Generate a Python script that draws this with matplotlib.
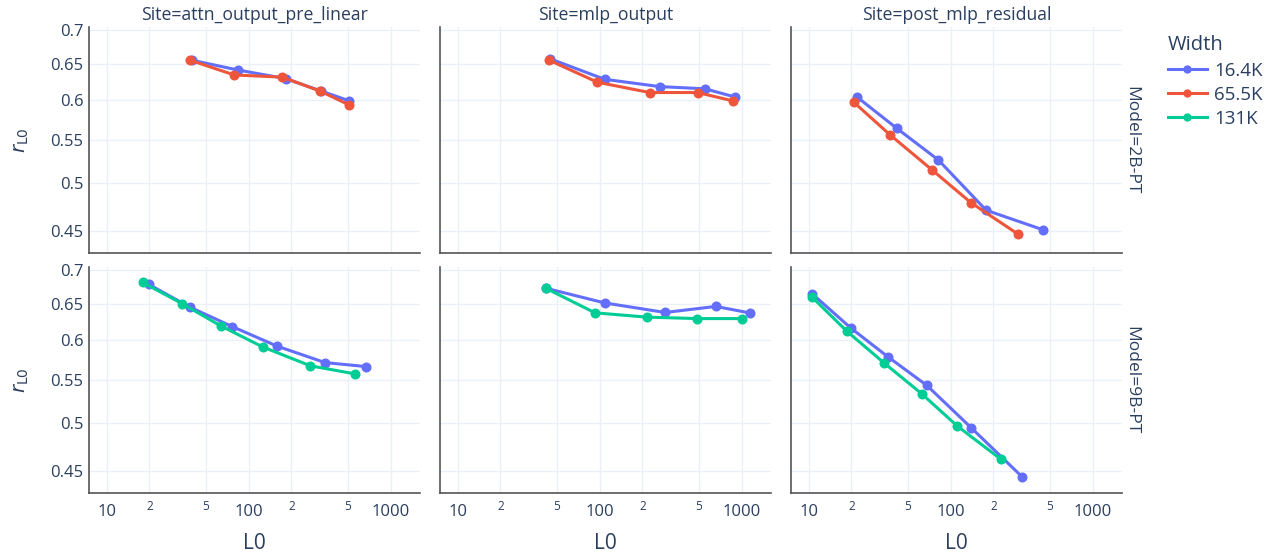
import matplotlib
matplotlib.use("Agg")
import matplotlib.pyplot as plt
from matplotlib.ticker import FixedLocator, NullLocator, FixedFormatter

plt.rcParams['font.family'] = ['Open Sans', 'DejaVu Sans']

sites = ['attn_output_pre_linear', 'mlp_output', 'post_mlp_residual']
models = ['2B-PT', '9B-PT']
widths = ['16.4K', '65.5K', '131K']
colors = {'16.4K': '#636EFA', '65.5K': '#EF553B', '131K': '#00CC96'}

# (model, site, width) -> (L0 values, r_L0 values)
data = {
    ('2B-PT', 'attn_output_pre_linear', '16.4K'): ([39.6, 83.6, 182, 324, 510], [0.655, 0.641, 0.629, 0.612, 0.599]),
    ('2B-PT', 'attn_output_pre_linear', '65.5K'): ([38.5, 79.1, 172.6, 318, 505], [0.655, 0.634, 0.631, 0.612, 0.594]),
    ('2B-PT', 'mlp_output', '16.4K'): ([44.6, 108.5, 265, 553, 897], [0.657, 0.628, 0.618, 0.615, 0.604]),
    ('2B-PT', 'mlp_output', '65.5K'): ([43.9, 96.3, 225, 489, 864], [0.655, 0.624, 0.610, 0.610, 0.599]),
    ('2B-PT', 'post_mlp_residual', '16.4K'): ([21.9, 41.6, 81.8, 177.5, 450], [0.604, 0.564, 0.526, 0.471, 0.451]),
    ('2B-PT', 'post_mlp_residual', '65.5K'): ([20.8, 37.3, 73.4, 138.4, 297], [0.597, 0.556, 0.515, 0.479, 0.447]),
    ('9B-PT', 'attn_output_pre_linear', '16.4K'): ([19.8, 38.5, 76.6, 158.5, 345, 673], [0.678, 0.645, 0.618, 0.592, 0.571, 0.566]),
    ('9B-PT', 'attn_output_pre_linear', '131K'): ([17.9, 34, 63.5, 125.5, 272, 560], [0.681, 0.650, 0.619, 0.591, 0.567, 0.557]),
    ('9B-PT', 'mlp_output', '16.4K'): ([41.6, 108.5, 289, 659, 1150], [0.6725, 0.651, 0.6375, 0.646, 0.6367]),
    ('9B-PT', 'mlp_output', '131K'): ([41.6, 92.7, 214.5, 484, 1005], [0.6725, 0.637, 0.631, 0.629, 0.629]),
    ('9B-PT', 'post_mlp_residual', '16.4K'): ([10.6, 19.8, 36.3, 68, 139, 317], [0.664, 0.616, 0.578, 0.543, 0.495, 0.4445]),
    ('9B-PT', 'post_mlp_residual', '131K'): ([10.6, 18.5, 33.7, 62.7, 111.4, 226], [0.659, 0.612, 0.571, 0.533, 0.4966, 0.4617]),
}

x_ticks = [10, 20, 50, 100, 200, 500, 1000]
x_labels = ['10', '2', '5', '100', '2', '5', '1000']
y_ticks = [0.45, 0.5, 0.55, 0.6, 0.65, 0.7]
y_labels = ['0.45', '0.5', '0.55', '0.6', '0.65', '0.7']

W, H = 1277, 555
txt = '#2a3f5f'
fig = plt.figure(figsize=(W / 100, H / 100), dpi=100)

col_left = [89, 440, 791]
col_w = 331
row_top = [27, 267]
row_h = 226

handles = {}
for r, model in enumerate(models):
    for c, site in enumerate(sites):
        ax = fig.add_axes([col_left[c] / W, 1 - (row_top[r] + row_h) / H, col_w / W, row_h / H])
        ax.set_xscale('log')
        ax.set_yscale('log')
        ax.set_xlim(7.5, 1610)
        ax.set_ylim(0.4287, 0.7045)
        ax.xaxis.set_major_locator(FixedLocator(x_ticks))
        ax.xaxis.set_minor_locator(NullLocator())
        ax.yaxis.set_major_locator(FixedLocator(y_ticks))
        ax.yaxis.set_minor_locator(NullLocator())
        ax.grid(True, color='#EBF0F8', lw=1)
        ax.set_axisbelow(True)
        for s in ['top', 'right']:
            ax.spines[s].set_visible(False)
        for s in ['left', 'bottom']:
            ax.spines[s].set_color('#555555')
            ax.spines[s].set_linewidth(1.2)
        ax.tick_params(length=0, colors=txt, labelsize=12)
        if r == 1:
            ax.xaxis.set_major_formatter(FixedFormatter(x_labels))
            ax.tick_params(axis='x', pad=8)
            for lab, t in zip(ax.get_xticklabels(), x_labels):
                if t in ('2', '5'):
                    lab.set_fontsize(8.5)
                    lab.set_y(0.02)
            ax.set_xlabel('L0', fontsize=15, color=txt, labelpad=9)
        else:
            ax.set_xticklabels([])
        if c == 0:
            ax.yaxis.set_major_formatter(FixedFormatter(y_labels))
            ax.tick_params(axis='y', pad=4)
            ax.set_ylabel(r'$r_{\mathrm{L0}}$', fontsize=14, color=txt, labelpad=14)
        else:
            ax.set_yticklabels([])
        if r == 0:
            ax.set_title('Site=' + site, fontsize=12.7, color=txt, pad=5)
        if c == 2:
            ax.text(1.005, 0.5, 'Model=' + model, transform=ax.transAxes, rotation=270,
                    ha='left', va='center', fontsize=12.5, color=txt)
        for wd in widths:
            key = (model, site, wd)
            if key in data:
                xs, ys = data[key]
                ln, = ax.plot(xs, ys, '-o', color=colors[wd], lw=2.2, ms=6.2, label=wd)
                handles[wd] = ln

leg = fig.legend([handles[w] for w in widths], widths, loc='upper left',
                 bbox_to_anchor=(1160 / W, 1 - 28 / H), frameon=False, title='Width',
                 fontsize=13.5, title_fontsize=14.5, handlelength=2.1, labelspacing=0.32,
                 alignment='left', handletextpad=0.4, markerscale=0.8, borderaxespad=0)
for t in leg.get_texts():
    t.set_color(txt)
leg.get_title().set_color(txt)

fig.savefig('out.png', dpi=100)
